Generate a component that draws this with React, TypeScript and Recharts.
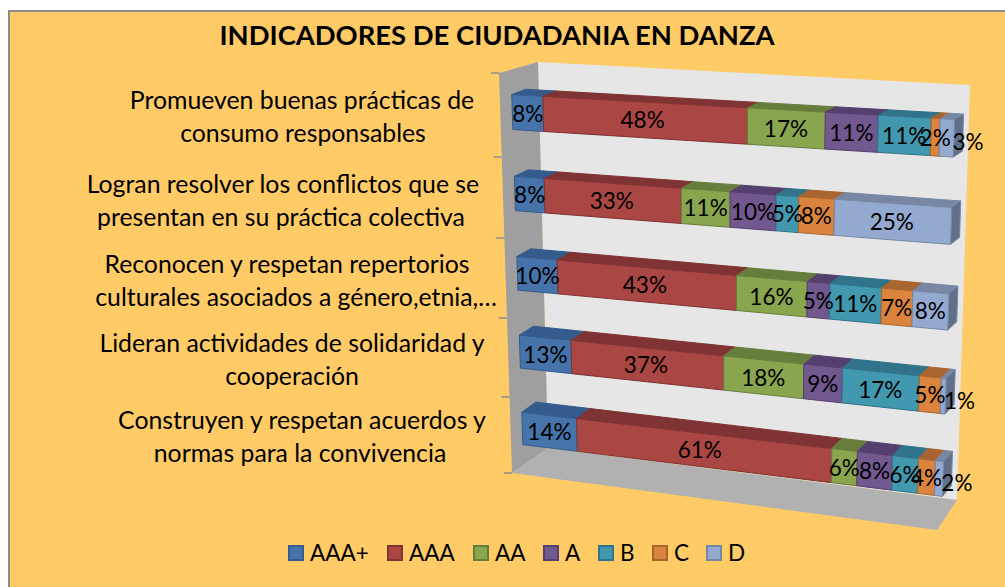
import { Bar, BarChart, LabelList, Legend, XAxis, YAxis } from "recharts";

const categories = [
  "Promueven buenas prácticas de consumo responsables",
  "Logran resolver los conflictos que se presentan en su práctica colectiva",
  "Reconocen y respetan repertorios culturales asociados a género,etnia,…",
  "Lideran actividades de solidaridad y cooperación",
  "Construyen y respetan acuerdos y normas para la convivencia",
];
const categoryLines = [
  ["Promueven buenas prácticas de", "consumo responsables"],
  ["Logran resolver los conflictos que se", "presentan en su práctica colectiva"],
  ["Reconocen y respetan repertorios", "culturales asociados a género,etnia,…"],
  ["Lideran actividades de solidaridad y", "cooperación"],
  ["Construyen y respetan acuerdos y", "normas para la convivencia"],
];

// the labels show them rounded
const aaaPlus = [7.8, 7.6, 10.4, 13.4, 14.4];
const aaa = [48.3, 33.4, 43.4, 37.4, 61.4];
const aa = [17.0, 11.3, 16.0, 18.4, 5.7];
const a = [11.2, 10.4, 5.0, 8.6, 7.7];
const b = [10.9, 5.0, 11.2, 16.6, 5.6];
const c = [1.8, 7.8, 6.6, 4.6, 3.6];
const d = [2.9, 24.6, 7.5, 1.0, 1.7];

const seriesNames = ["AAA+", "AAA", "AA", "A", "B", "C", "D"];
const seriesValues = [aaaPlus, aaa, aa, a, b, c, d];
const frontColors = ["#4674aa", "#aa4643", "#89a54e", "#71588f", "#4198af", "#db843d", "#93a9cf"];
const topColors = ["#345b8c", "#7f3332", "#677d3b", "#553f6e", "#30738a", "#a8652f", "#7787a4"];

const chartData = categories.map((name, i) => {
  const row: Record<string, string | number> = { name };
  seriesNames.forEach((s, k) => {
    row[s] = seriesValues[k][i];
  });
  return row;
});

const FONT = "Lato, sans-serif";
const W = 1005;
const H = 587;
const PLOT = { left: 500, top: 70, width: 460, height: 400 };
const LEGEND_H = 30;
const legendWidths = [99, 86, 70, 55, 54, 54, 40];

// the Excel chart is a tilted 3D one, so everything goes through this warp
function warp(x: number, y: number) {
  const u = (x - PLOT.left) / PLOT.width;
  const v = (y - PLOT.top) / PLOT.height;
  const u2 = (u * 0.89) / (1 - 0.11 * u);
  const v2 = (v * 1.05) / (1 + 0.05 * v);
  const xl = 511 + 12.5 * v2;
  const xr = 955.4 - 13.8 * v2;
  const yl = 71 + 395.5 * v2;
  const yr = 94 + 426 * v2;
  return [xl + (xr - xl) * u2, yl + (yr - yl) * u2, u, v];
}

function pts(list: number[][]) {
  return list.map((p) => `${p[0]},${p[1]}`).join(" ");
}

function back(p: number[]) {
  return [p[0] + 14 - 5 * p[2], p[1] - 5 - 6 * p[3]];
}

function Box3D(props: any) {
  const { x, y, width, height, k } = props;
  const tl = warp(x, y);
  const tr = warp(x + width, y);
  const bl = warp(x, y + height);
  const br = warp(x + width, y + height);
  const front = frontColors[k];
  const dark = topColors[k];
  return (
    <g stroke={dark} strokeWidth={1} strokeLinejoin="round">
      <polygon points={pts([tl, tr, back(tr), back(tl)])} fill={dark} />
      {k === 6 && <polygon points={pts([tr, br, back(br), back(tr)])} fill="#5f7088" stroke="#7787a4" />}
      <polygon points={pts([tl, tr, br, bl])} fill={front} />
    </g>
  );
}

function BoxLabel(props: any) {
  const { x, y, width, height, index, k } = props;
  const val = seriesValues[k][index];
  const mid = warp(x + width / 2, y + height / 2);
  let lx = mid[0];
  let ly = mid[1];
  // the thin last segments have their label pushed past the end of the bar
  if (k === 6 && val <= 3) {
    lx = warp(x + width, y + height / 2)[0] + 14;
    ly += 4;
  }
  return (
    <text x={lx} y={ly} textAnchor="middle" dominantBaseline="central" fontFamily={FONT} fontSize={22.5} fill="#000">
      {Math.round(val)}%
    </text>
  );
}

function CategoryTick(props: any) {
  const { y, payload } = props;
  const i = payload.index;
  const centers = [
    [302, 303],
    [283, 281],
    [287, 296],
    [292, 292],
    [302, 300],
  ];
  const shift = [-2.5, 0, 0, 0.5, 1];
  const p = warp(PLOT.left, y);
  return (
    <g>
      {categoryLines[i].map((line, n) => (
        <text
          key={n}
          x={centers[i][n]}
          y={p[1] - 10 + shift[i] + n * 33}
          textAnchor="middle"
          dominantBaseline="central"
          fontFamily={FONT}
          fontSize={24.8}
          fill="#000"
        >
          {line}
        </text>
      ))}
    </g>
  );
}

function Walls() {
  const ticks = [73, 157, 238, 318, 397, 473];
  return (
    <g>
      <polygon points="538,62 970,85 957,500 548,448" fill="#e6e6e6" />
      <polygon points="538,62 499,73 512,473 548,448" fill="#9f9f9f" />
      <polygon points="548,448 957,500 937,530 512,473" fill="#b1b1b1" />
      {ticks.map((ty, i) => (
        <line key={i} x1={491 + i * 2.6} x2={499 + i * 2.6} y1={ty} y2={ty} stroke="#8c8c8c" strokeWidth={1.5} />
      ))}
    </g>
  );
}

function LegendBox({ payload }: any) {
  return (
    <div style={{ display: "flex", fontFamily: FONT, fontSize: 22.5, color: "#000", alignItems: "center" }}>
      {(payload ?? []).map((item: any, i: number) => (
        <div key={item.value} style={{ display: "flex", alignItems: "center", gap: 6, width: legendWidths[i] }}>
          <span
            style={{
              width: 12,
              height: 12,
              background: frontColors[i],
              border: `2px solid ${topColors[i]}`,
              display: "inline-block",
            }}
          />
          <span>{item.value}</span>
        </div>
      ))}
    </div>
  );
}

export default function App() {
  return (
    <div style={{ position: "absolute", left: 0, top: 0, width: W, height: H, background: "#fff", overflow: "hidden" }}>
      <div
        style={{
          position: "absolute",
          left: 8,
          top: 10,
          right: 0,
          bottom: 0,
          background: "#ffcb66",
          borderLeft: "2px solid #8c8c8c",
          borderTop: "2px solid #8c8c8c",
        }}
      />
      <div
        style={{
          position: "absolute",
          left: 0,
          width: 994,
          top: 18,
          textAlign: "center",
          fontFamily: FONT,
          fontWeight: 700,
          fontSize: 27.4,
          color: "#000",
          whiteSpace: "nowrap",
        }}
      >
        INDICADORES DE CIUDADANIA EN DANZA
      </div>
      <div style={{ position: "absolute", left: 0, top: 0 }}>
        <BarChart
          width={W}
          height={H}
          data={chartData}
          layout="vertical"
          stackOffset="expand"
          barCategoryGap="28.5%"
          margin={{ top: PLOT.top, right: W - PLOT.left - PLOT.width, bottom: H - PLOT.top - PLOT.height - LEGEND_H, left: 0 }}
        >
          <Walls />
          <XAxis type="number" domain={[0, 1]} hide />
          <YAxis type="category" dataKey="name" width={PLOT.left} axisLine={false} tickLine={false} interval={0} tick={CategoryTick} />
          <Legend
            height={LEGEND_H}
            itemSorter={null}
            content={LegendBox}
            wrapperStyle={{ left: 288, top: 539, width: 500, height: LEGEND_H, bottom: "auto" }}
          />
          {seriesNames.map((s, k) => (
            <Bar
              key={s}
              dataKey={s}
              stackId="a"
              fill={frontColors[k]}
              isAnimationActive={false}
              shape={(p: any) => <Box3D {...p} k={k} />}
            >
              <LabelList content={(p: any) => <BoxLabel {...p} k={k} />} />
            </Bar>
          ))}
        </BarChart>
      </div>
    </div>
  );
}
